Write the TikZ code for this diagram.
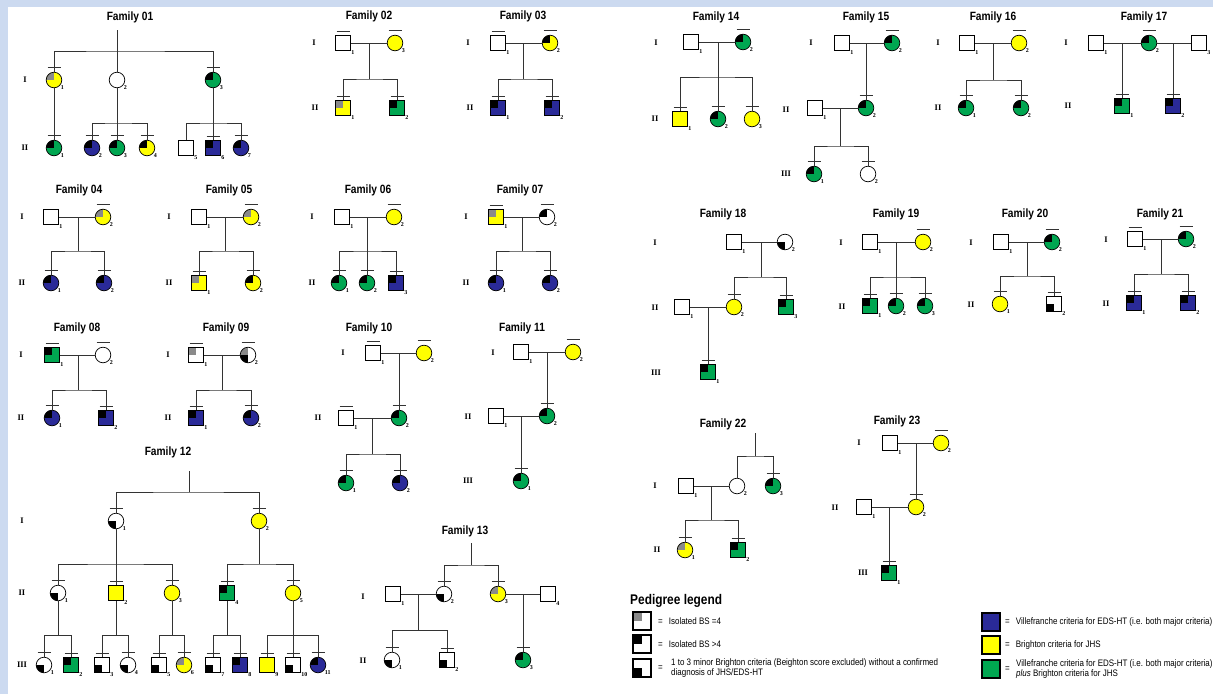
\documentclass[tikz,border=0pt]{standalone}
\usepackage{fontspec}
\setmainfont{Liberation Serif}
\newfontfamily\narrowsans[FakeStretch=0.85]{Liberation Sans}
\usetikzlibrary{calc}

\definecolor{vilblue}{HTML}{2A2A98}
\definecolor{briyellow}{HTML}{FFFF00}
\definecolor{bothgreen}{HTML}{00A651}
\definecolor{bsgrey}{HTML}{8A8A8A}
\definecolor{framebg}{HTML}{CCDAF0}

\tikzset{
  ind/.style={draw=black, line width=0.7pt, inner sep=0pt, fill=white},
  male/.style={ind, rectangle, minimum size=15pt},
  fem/.style={ind, circle, minimum size=15.6pt},
  vil/.style={fill=vilblue},
  bri/.style={fill=briyellow},
  vboth/.style={fill=bothgreen},
  gUL/.style={path picture={\fill[bsgrey] (path picture bounding box.north west) rectangle (path picture bounding box.center);}},
  bUL/.style={path picture={\fill[black] (path picture bounding box.north west) rectangle (path picture bounding box.center);}},
  bLL/.style={path picture={\fill[black] (path picture bounding box.south west) rectangle (path picture bounding box.center);}},
  gbL/.style={path picture={\fill[bsgrey] (path picture bounding box.north west) rectangle (path picture bounding box.center);
                            \fill[black] (path picture bounding box.south west) rectangle (path picture bounding box.center);}},
  nrlab/.style={font=\fontsize{6}{6}\selectfont\bfseries, inner sep=0.4pt},
  nr/.style={label={[nrlab]-40:#1}},
  gen/.style={font=\fontsize{8.5}{8.5}\selectfont\bfseries, inner sep=0pt},
  ftitle/.style={font=\narrowsans\bfseries\fontsize{12}{14}\selectfont, inner sep=0pt},
  ped/.style={draw=black!80, line width=0.85pt},
  legbox/.style={draw=black, line width=1.2pt, rectangle, minimum size=18pt, inner sep=0pt, fill=white},
  legtxt/.style={font=\narrowsans\fontsize{9.4}{10.5}\selectfont, inner sep=0pt},
  ltitle/.style={font=\narrowsans\bfseries\fontsize{14}{16}\selectfont, inner sep=0pt}
}

\newcommand{\seen}[1]{\foreach \p in {#1} {\draw[ped] ([yshift=4pt]\p.north) +(-6.5pt,0) -- +(6.5pt,0);}}
\newcommand{\offspring}[4]{\draw[ped] (#1) -- (#2); \draw[ped] (#3.north) |- (#2) -| (#4.north);}

\begin{document}
\begin{tikzpicture}[x=1pt, y=-1pt]
  \useasboundingbox (0,0) rectangle (1213,694);
  \fill[framebg] (0,0) rectangle (1213,694);
  \fill[white] (8,7) rectangle (1213,694);

  % Family 01
  \node[ftitle] (t01) at (130,17) {Family 01};
  \node[gen] (g01a) at (25,80) {I};
  \node[gen] (g01b) at (25,148) {II};
  \coordinate (f01top) at (117,30);
  \coordinate (f01s) at (117,51);
  \coordinate (f01s2) at (117,123);
  \coordinate (f01s3) at (213,123);
  \node[fem,bri,gUL,nr=1] (f01a1) at (54,80) {};
  \node[fem,nr=2] (f01a2) at (117,80) {};
  \node[fem,vboth,bUL,nr=3] (f01a3) at (213,80) {};
  \node[fem,vboth,bUL,nr=1] (f01b1) at (54,148) {};
  \node[fem,vil,bUL,nr=2] (f01b2) at (92,148) {};
  \node[fem,vboth,bUL,nr=3] (f01b3) at (117,148) {};
  \node[fem,bri,bUL,nr=4] (f01b4) at (147,148) {};
  \node[male,nr=5] (f01b5) at (186,148) {};
  \node[male,vil,bUL,nr=6] (f01b6) at (213,148) {};
  \node[fem,vil,bUL,nr=7] (f01b7) at (241,148) {};
  \draw[ped] (f01top) -- (f01a2);
  \draw[ped] (f01a1.north) |- (f01s) -| (f01a3.north);
  \draw[ped] (f01a1) -- (f01b1);
  \draw[ped] (f01a2) -- (f01b3);
  \draw[ped] (f01b2.north) |- (f01s2) -| (f01b4.north);
  \draw[ped] (f01a3) -- (f01b6);
  \draw[ped] (f01b5.north) |- (f01s3) -| (f01b7.north);
  \seen{f01a1,f01a3,f01b1,f01b2,f01b3,f01b4,f01b6,f01b7}

  % Family 02
  \node[ftitle] (t02) at (369,16) {Family 02};
  \node[gen] (g02a) at (314,43) {I};
  \node[gen] (g02b) at (315,108) {II};
  \node[male,nr=1] (f02a1) at (343,43) {};
  \node[fem,bri,nr=3] (f02a2) at (395,43) {};
  \node[male,bri,gUL,nr=1] (f02b1) at (343,108) {};
  \node[male,vboth,bUL,nr=2] (f02b2) at (397,108) {};
  \coordinate (f02m) at (369,43);
  \coordinate (f02s) at (369,79);
  \draw[ped] (f02a1) -- (f02a2);
  \offspring{f02m}{f02s}{f02b1}{f02b2}
  \seen{f02a1,f02a2,f02b1,f02b2}

  % Family 03
  \node[ftitle] (t03) at (523,16) {Family 03};
  \node[gen] (g03a) at (468,43) {I};
  \node[gen] (g03b) at (470,108) {II};
  \node[male,nr=1] (f03a1) at (498,43) {};
  \node[fem,bri,bUL,nr=2] (f03a2) at (550,43) {};
  \node[male,vil,bUL,nr=1] (f03b1) at (498,108) {};
  \node[male,vil,bUL,nr=2] (f03b2) at (552,108) {};
  \coordinate (f03m) at (523,43);
  \coordinate (f03s) at (523,79);
  \draw[ped] (f03a1) -- (f03a2);
  \offspring{f03m}{f03s}{f03b1}{f03b2}
  \seen{f03a1,f03a2,f03b1,f03b2}

  % Family 04
  \node[ftitle] (t04) at (79,190) {Family 04};
  \node[gen] (g04a) at (22,217) {I};
  \node[gen] (g04b) at (22,283) {II};
  \node[male,nr=1] (f04a1) at (51,217) {};
  \node[fem,bri,gUL,nr=2] (f04a2) at (103,217) {};
  \node[fem,vil,bUL,nr=1] (f04b1) at (51,283) {};
  \node[fem,vil,bUL,nr=2] (f04b2) at (104,283) {};
  \coordinate (f04m) at (78,217);
  \coordinate (f04s) at (78,251);
  \draw[ped] (f04a1) -- (f04a2);
  \offspring{f04m}{f04s}{f04b1}{f04b2}
  \seen{f04a2,f04b1,f04b2}

  % Family 05
  \node[ftitle] (t05) at (229,190) {Family 05};
  \node[gen] (g05a) at (169,217) {I};
  \node[gen] (g05b) at (169,283) {II};
  \node[male,nr=1] (f05a1) at (199,217) {};
  \node[fem,bri,gUL,nr=2] (f05a2) at (251,217) {};
  \node[male,bri,gUL,nr=1] (f05b1) at (199,283) {};
  \node[fem,bri,bUL,nr=2] (f05b2) at (253,283) {};
  \coordinate (f05m) at (225,217);
  \coordinate (f05s) at (225,251);
  \draw[ped] (f05a1) -- (f05a2);
  \offspring{f05m}{f05s}{f05b1}{f05b2}
  \seen{f05a2,f05b1,f05b2}

  % Family 06
  \node[ftitle] (t06) at (368,190) {Family 06};
  \node[gen] (g06a) at (312,217) {I};
  \node[gen] (g06b) at (312,283) {II};
  \node[male,nr=1] (f06a1) at (342,217) {};
  \node[fem,bri,nr=2] (f06a2) at (394,217) {};
  \node[fem,vboth,bUL,nr=1] (f06b1) at (339,283) {};
  \node[fem,vboth,bUL,nr=2] (f06b2) at (367,283) {};
  \node[male,vil,bUL,nr=3] (f06b3) at (396,283) {};
  \coordinate (f06m) at (367,217);
  \coordinate (f06s) at (367,251);
  \draw[ped] (f06a1) -- (f06a2);
  \offspring{f06m}{f06s}{f06b1}{f06b3}
  \draw[ped] (f06s) -- (f06b2);
  \seen{f06a2,f06b1,f06b2,f06b3}

  % Family 07
  \node[ftitle] (t07) at (520,190) {Family 07};
  \node[gen] (g07a) at (466,217) {I};
  \node[gen] (g07b) at (466,283) {II};
  \node[male,bri,gUL,nr=1] (f07a1) at (496,217) {};
  \node[fem,bUL,nr=2] (f07a2) at (547,217) {};
  \node[fem,vil,bUL,nr=1] (f07b1) at (496,283) {};
  \node[fem,vil,bUL,nr=2] (f07b2) at (550,283) {};
  \coordinate (f07m) at (522,217);
  \coordinate (f07s) at (522,251);
  \draw[ped] (f07a1) -- (f07a2);
  \offspring{f07m}{f07s}{f07b1}{f07b2}
  \seen{f07a1,f07a2,f07b1,f07b2}

  % Family 08
  \node[ftitle] (t08) at (77,328) {Family 08};
  \node[gen] (g08a) at (21,355) {I};
  \node[gen] (g08b) at (21,418) {II};
  \node[male,vboth,bUL,nr=1] (f08a1) at (52,355) {};
  \node[fem,nr=2] (f08a2) at (103,355) {};
  \node[fem,vil,bUL,nr=1] (f08b1) at (52,418) {};
  \node[male,vil,bUL,nr=2] (f08b2) at (106,418) {};
  \coordinate (f08m) at (78,355);
  \coordinate (f08s) at (78,390);
  \draw[ped] (f08a1) -- (f08a2);
  \offspring{f08m}{f08s}{f08b1}{f08b2}
  \seen{f08a1,f08a2,f08b1,f08b2}

  % Family 09
  \node[ftitle] (t09) at (226,328) {Family 09};
  \node[gen] (g09a) at (168,355) {I};
  \node[gen] (g09b) at (168,418) {II};
  \node[male,gUL,nr=1] (f09a1) at (196,355) {};
  \node[fem,gbL,nr=2] (f09a2) at (248,355) {};
  \node[male,vil,bUL,nr=1] (f09b1) at (196,418) {};
  \node[fem,vil,bUL,nr=2] (f09b2) at (251,418) {};
  \coordinate (f09m) at (222,355);
  \coordinate (f09s) at (222,390);
  \draw[ped] (f09a1) -- (f09a2);
  \offspring{f09m}{f09s}{f09b1}{f09b2}
  \seen{f09a1,f09a2,f09b1,f09b2}

  % Family 10
  \node[ftitle] (t10) at (369,328) {Family 10};
  \node[gen] (g10a) at (343,353) {I};
  \node[gen] (g10b) at (318,418) {II};
  \node[male,nr=1] (f10a1) at (373,353) {};
  \node[fem,bri,nr=2] (f10a2) at (424,353) {};
  \node[male,nr=1] (f10b1) at (346,418) {};
  \node[fem,vboth,bUL,nr=2] (f10b2) at (399,418) {};
  \node[fem,vboth,bUL,nr=1] (f10c1) at (346,483) {};
  \node[fem,vil,bUL,nr=2] (f10c2) at (400,483) {};
  \coordinate (f10m1) at (399,353);
  \coordinate (f10m2) at (372,418);
  \coordinate (f10s2) at (372,454);
  \draw[ped] (f10a1) -- (f10a2);
  \draw[ped] (f10m1) -- (f10b2);
  \draw[ped] (f10b1) -- (f10b2);
  \offspring{f10m2}{f10s2}{f10c1}{f10c2}
  \seen{f10a1,f10a2,f10b1,f10b2,f10c1,f10c2}

  % Family 11
  \node[ftitle] (t11) at (522,328) {Family 11};
  \node[gen] (g11a) at (493,353) {I};
  \node[gen] (g11b) at (468,417) {II};
  \node[gen] (g11c) at (468,481) {III};
  \node[male,nr=1] (f11a1) at (521,352) {};
  \node[fem,bri,nr=2] (f11a2) at (573,352) {};
  \node[male,nr=1] (f11b1) at (496,416) {};
  \node[fem,vboth,bUL,nr=2] (f11b2) at (547,416) {};
  \node[fem,vboth,bUL,nr=1] (f11c1) at (521,481) {};
  \coordinate (f11m1) at (547,352);
  \coordinate (f11m2) at (521,416);
  \draw[ped] (f11a1) -- (f11a2);
  \draw[ped] (f11m1) -- (f11b2);
  \draw[ped] (f11b1) -- (f11b2);
  \draw[ped] (f11m2) -- (f11c1);
  \seen{f11a2,f11b2,f11c1}

  % Family 12
  \node[ftitle] (t12) at (168,452) {Family 12};
  \node[gen] (g12a) at (22,521) {I};
  \node[gen] (g12b) at (22,593) {II};
  \node[gen] (g12c) at (22,665) {III};
  \coordinate (f12top) at (189,471);
  \coordinate (f12s) at (189,492);
  \node[fem,bLL,nr=1] (f12a1) at (116,521) {};
  \node[fem,bri,nr=2] (f12a2) at (259,521) {};
  \node[fem,bLL,nr=1] (f12b1) at (58,593) {};
  \node[male,bri,nr=2] (f12b2) at (116,593) {};
  \node[fem,bri,nr=3] (f12b3) at (172,593) {};
  \node[male,vboth,bUL,nr=4] (f12b4) at (227,593) {};
  \node[fem,bri,nr=5] (f12b5) at (293,593) {};
  \node[fem,bLL,nr=1] (f12c1) at (44,665) {};
  \node[male,vboth,bUL,nr=2] (f12c2) at (71,665) {};
  \node[male,bLL,nr=3] (f12c3) at (102,665) {};
  \node[fem,bLL,nr=4] (f12c4) at (128,665) {};
  \node[male,bLL,nr=5] (f12c5) at (159,665) {};
  \node[fem,bri,gUL,nr=6] (f12c6) at (184,665) {};
  \node[male,bLL,nr=7] (f12c7) at (213,665) {};
  \node[male,vil,bUL,nr=8] (f12c8) at (240,665) {};
  \node[male,bri,nr=9] (f12c9) at (267,665) {};
  \node[male,bLL,nr=10] (f12c10) at (293,665) {};
  \node[fem,vil,bUL,nr=11] (f12c11) at (318,665) {};
  \coordinate (f12s1) at (116,564);
  \coordinate (f12s2) at (259,564);
  \coordinate (f12s3) at (58,635);
  \coordinate (f12s4) at (116,635);
  \coordinate (f12s5) at (172,635);
  \coordinate (f12s6) at (227,635);
  \coordinate (f12s7) at (293,635);
  \draw[ped] (f12top) -- (f12s);
  \draw[ped] (f12a1.north) |- (f12s) -| (f12a2.north);
  \draw[ped] (f12a1) -- (f12b2);
  \draw[ped] (f12b1.north) |- (f12s1) -| (f12b3.north);
  \offspring{f12a2}{f12s2}{f12b4}{f12b5}
  \offspring{f12b1}{f12s3}{f12c1}{f12c2}
  \offspring{f12b2}{f12s4}{f12c3}{f12c4}
  \offspring{f12b3}{f12s5}{f12c5}{f12c6}
  \offspring{f12b4}{f12s6}{f12c7}{f12c8}
  \offspring{f12b5}{f12s7}{f12c9}{f12c11}
  \draw[ped] (f12s7) -- (f12c10);
  \seen{f12a1,f12a2,f12b1,f12b2,f12b3,f12b4,f12b5}
  \seen{f12c1,f12c2,f12c3,f12c4,f12c5,f12c6,f12c7,f12c8,f12c9,f12c10,f12c11}

  % Family 13
  \node[ftitle] (t13) at (465,531) {Family 13};
  \node[gen] (g13a) at (363,597) {I};
  \node[gen] (g13b) at (363,661) {II};
  \coordinate (f13top) at (471,543);
  \coordinate (f13s) at (471,565);
  \node[male,nr=1] (f13a1) at (393,594) {};
  \node[fem,bLL,nr=2] (f13a2) at (444,594) {};
  \node[fem,bri,gUL,nr=3] (f13a3) at (498,594) {};
  \node[male,nr=4] (f13a4) at (548,594) {};
  \node[fem,bLL,nr=1] (f13b1) at (392,660) {};
  \node[male,bLL,nr=2] (f13b2) at (447,660) {};
  \node[fem,vboth,bUL,nr=3] (f13b3) at (523,660) {};
  \coordinate (f13m1) at (418,594);
  \coordinate (f13s1) at (418,630);
  \coordinate (f13m2) at (523,594);
  \draw[ped] (f13top) -- (f13s);
  \draw[ped] (f13a2.north) |- (f13s) -| (f13a3.north);
  \draw[ped] (f13a1) -- (f13a2);
  \offspring{f13m1}{f13s1}{f13b1}{f13b2}
  \draw[ped] (f13a3) -- (f13a4);
  \draw[ped] (f13m2) -- (f13b3);
  \seen{f13a2,f13a3,f13b1,f13b2,f13b3}

  % Family 14
  \node[ftitle] (t14) at (716,17) {Family 14};
  \node[gen] (g14a) at (656,43) {I};
  \node[gen] (g14b) at (655,119) {II};
  \node[male,nr=1] (f14a1) at (691,42) {};
  \node[fem,vboth,bUL,nr=2] (f14a2) at (743,42) {};
  \node[male,bri,nr=1] (f14b1) at (680,119) {};
  \node[fem,vboth,bUL,nr=2] (f14b2) at (718,119) {};
  \node[fem,bri,nr=3] (f14b3) at (752,119) {};
  \coordinate (f14m) at (718,42);
  \coordinate (f14s) at (718,77);
  \draw[ped] (f14a1) -- (f14a2);
  \offspring{f14m}{f14s}{f14b1}{f14b3}
  \draw[ped] (f14s) -- (f14b2);
  \seen{f14a2,f14b1,f14b2,f14b3}

  % Family 15
  \node[ftitle] (t15) at (866,17) {Family 15};
  \node[gen] (g15a) at (811,43) {I};
  \node[gen] (g15b) at (786,110) {II};
  \node[gen] (g15c) at (786,174) {III};
  \node[male,nr=1] (f15a1) at (842,43) {};
  \node[fem,vboth,bUL,nr=2] (f15a2) at (892,43) {};
  \node[male,nr=1] (f15b1) at (815,108) {};
  \node[fem,vboth,bUL,nr=2] (f15b2) at (866,108) {};
  \node[fem,vboth,bUL,nr=1] (f15c1) at (814,174) {};
  \node[fem,nr=2] (f15c2) at (868,174) {};
  \coordinate (f15m1) at (866,43);
  \coordinate (f15m2) at (840,108);
  \coordinate (f15s2) at (840,146);
  \draw[ped] (f15a1) -- (f15a2);
  \draw[ped] (f15m1) -- (f15b2);
  \draw[ped] (f15b1) -- (f15b2);
  \offspring{f15m2}{f15s2}{f15c1}{f15c2}
  \seen{f15a2,f15b2,f15c1,f15c2}

  % Family 16
  \node[ftitle] (t16) at (993,17) {Family 16};
  \node[gen] (g16a) at (938,43) {I};
  \node[gen] (g16b) at (938,108) {II};
  \node[male,nr=1] (f16a1) at (967,43) {};
  \node[fem,bri,nr=2] (f16a2) at (1019,43) {};
  \node[fem,vboth,bUL,nr=1] (f16b1) at (966,108) {};
  \node[fem,vboth,bUL,nr=2] (f16b2) at (1021,108) {};
  \coordinate (f16m) at (993,43);
  \coordinate (f16s) at (993,80);
  \draw[ped] (f16a1) -- (f16a2);
  \offspring{f16m}{f16s}{f16b1}{f16b2}
  \seen{f16a2,f16b1,f16b2}

  % Family 17
  \node[ftitle] (t17) at (1144,17) {Family 17};
  \node[gen] (g17a) at (1066,43) {I};
  \node[gen] (g17b) at (1068,106) {II};
  \node[male,nr=1] (f17a1) at (1096,43) {};
  \node[fem,vboth,bUL,nr=2] (f17a2) at (1149,43) {};
  \node[male,nr=3] (f17a3) at (1199,43) {};
  \node[male,vboth,bUL,nr=1] (f17b1) at (1122,106) {};
  \node[male,vil,bUL,nr=2] (f17b2) at (1173,106) {};
  \coordinate (f17m1) at (1122,43);
  \coordinate (f17m2) at (1173,43);
  \draw[ped] (f17a1) -- (f17a2);
  \draw[ped] (f17a2) -- (f17a3);
  \draw[ped] (f17m1) -- (f17b1);
  \draw[ped] (f17m2) -- (f17b2);
  \seen{f17a2,f17b1,f17b2}

  % Family 18
  \node[ftitle] (t18) at (723,214) {Family 18};
  \node[gen] (g18a) at (655,243) {I};
  \node[gen] (g18b) at (655,308) {II};
  \node[gen] (g18c) at (656,373) {III};
  \node[male,nr=1] (f18a1) at (734,242) {};
  \node[fem,bLL,nr=2] (f18a2) at (785,242) {};
  \node[male,nr=1] (f18b1) at (682,307) {};
  \node[fem,bri,nr=2] (f18b2) at (734,307) {};
  \node[male,vboth,bUL,nr=3] (f18b3) at (786,307) {};
  \node[male,vboth,bUL,nr=1] (f18c1) at (708,372) {};
  \coordinate (f18m) at (761,242);
  \coordinate (f18s) at (761,277);
  \coordinate (f18m2) at (708,307);
  \draw[ped] (f18a1) -- (f18a2);
  \offspring{f18m}{f18s}{f18b2}{f18b3}
  \draw[ped] (f18b1) -- (f18b2);
  \draw[ped] (f18m2) -- (f18c1);
  \seen{f18b2,f18b3,f18c1}

  % Family 19
  \node[ftitle] (t19) at (896,214) {Family 19};
  \node[gen] (g19a) at (841,243) {I};
  \node[gen] (g19b) at (842,307) {II};
  \node[male,nr=1] (f19a1) at (870,242) {};
  \node[fem,bri,nr=2] (f19a2) at (923,242) {};
  \node[male,vboth,bUL,nr=1] (f19b1) at (870,306) {};
  \node[fem,vboth,bUL,nr=2] (f19b2) at (896,306) {};
  \node[fem,vboth,bUL,nr=3] (f19b3) at (925,306) {};
  \coordinate (f19m) at (896,242);
  \coordinate (f19s) at (896,277);
  \draw[ped] (f19a1) -- (f19a2);
  \offspring{f19m}{f19s}{f19b1}{f19b3}
  \draw[ped] (f19s) -- (f19b2);
  \seen{f19a2,f19b1,f19b2,f19b3}

  % Family 20
  \node[ftitle] (t20) at (1025,214) {Family 20};
  \node[gen] (g20a) at (971,243) {I};
  \node[gen] (g20b) at (971,305) {II};
  \node[male,nr=1] (f20a1) at (1001,242) {};
  \node[fem,vboth,bUL,nr=2] (f20a2) at (1052,242) {};
  \node[fem,bri,nr=1] (f20b1) at (1000,304) {};
  \node[male,bLL,nr=2] (f20b2) at (1054,304) {};
  \coordinate (f20m) at (1027,242);
  \coordinate (f20s) at (1027,276);
  \draw[ped] (f20a1) -- (f20a2);
  \offspring{f20m}{f20s}{f20b1}{f20b2}
  \seen{f20a2,f20b1,f20b2}

  % Family 21
  \node[ftitle] (t21) at (1160,214) {Family 21};
  \node[gen] (g21a) at (1106,240) {I};
  \node[gen] (g21b) at (1106,304) {II};
  \node[male,nr=1] (f21a1) at (1135,239) {};
  \node[fem,vboth,bUL,nr=2] (f21a2) at (1186,239) {};
  \node[male,vil,bUL,nr=1] (f21b1) at (1134,303) {};
  \node[male,vil,bUL,nr=2] (f21b2) at (1188,303) {};
  \coordinate (f21m) at (1161,239);
  \coordinate (f21s) at (1161,274);
  \draw[ped] (f21a1) -- (f21a2);
  \offspring{f21m}{f21s}{f21b1}{f21b2}
  \seen{f21a1,f21a2,f21b1,f21b2}

  % Family 22
  \node[ftitle] (t22) at (723,424) {Family 22};
  \node[gen] (g22a) at (655,486) {I};
  \node[gen] (g22b) at (657,550) {II};
  \coordinate (f22top) at (755,433);
  \coordinate (f22s0) at (755,456);
  \node[male,nr=1] (f22a1) at (686,486) {};
  \node[fem,nr=2] (f22a2) at (737,486) {};
  \node[fem,vboth,bUL,nr=3] (f22a3) at (773,486) {};
  \node[fem,bri,gUL,nr=1] (f22b1) at (685,550) {};
  \node[male,vboth,bUL,nr=2] (f22b2) at (738,550) {};
  \coordinate (f22m) at (711,486);
  \coordinate (f22s) at (711,520);
  \draw[ped] (f22top) -- (f22s0);
  \draw[ped] (f22a2.north) |- (f22s0) -| (f22a3.north);
  \draw[ped] (f22a1) -- (f22a2);
  \offspring{f22m}{f22s}{f22b1}{f22b2}
  \seen{f22a3,f22b1,f22b2}

  % Family 23
  \node[ftitle] (t23) at (897,421) {Family 23};
  \node[gen] (g23a) at (859,443) {I};
  \node[gen] (g23b) at (835,508) {II};
  \node[gen] (g23c) at (863,573) {III};
  \node[male,nr=1] (f23a1) at (890,443) {};
  \node[fem,bri,nr=2] (f23a2) at (941,443) {};
  \node[male,nr=1] (f23b1) at (864,507) {};
  \node[fem,bri,nr=2] (f23b2) at (916,507) {};
  \node[male,vboth,bUL,nr=1] (f23c1) at (889,573) {};
  \coordinate (f23m1) at (916,443);
  \coordinate (f23m2) at (889,507);
  \draw[ped] (f23a1) -- (f23a2);
  \draw[ped] (f23m1) -- (f23b2);
  \draw[ped] (f23b1) -- (f23b2);
  \draw[ped] (f23m2) -- (f23c1);
  \seen{f23a2,f23b2,f23c1}

  % legend
  \node[ltitle,anchor=west] (legtitle) at (630,601) {Pedigree legend};
  \node[legbox,gUL] (lk1) at (642,621) {};
  \node[legbox,bUL] (lk2) at (642,644) {};
  \node[legbox,bLL] (lk3) at (642,668) {};
  \node[legtxt,anchor=west] (lt1) at (658,621) {=\hspace{6pt}Isolated BS =4};
  \node[legtxt,anchor=west] (lt2) at (658,644) {=\hspace{6pt}Isolated BS >4};
  \node[legtxt,anchor=west] (le3) at (658,668) {=};
  \node[legtxt,anchor=west,align=left] (lt3) at (671,668) {1 to 3 minor Brighton criteria (Beighton score excluded) without a confirmed\\diagnosis of JHS/EDS-HT};
  \node[legbox,fill=vilblue] (lk4) at (991,622) {};
  \node[legbox,fill=briyellow] (lk5) at (991,645) {};
  \node[legbox,fill=bothgreen] (lk6) at (991,669) {};
  \node[legtxt,anchor=west] (lt4) at (1005,622) {=\hspace{6pt}Villefranche criteria for EDS-HT (i.e. both major criteria)};
  \node[legtxt,anchor=west] (lt5) at (1005,645) {=\hspace{6pt}Brighton criteria for JHS};
  \node[legtxt,anchor=west] (le6) at (1005,669) {=};
  \node[legtxt,anchor=west,align=left] (lt6) at (1016,669) {Villefranche criteria for EDS-HT (i.e. both major criteria)\\\textit{plus} Brighton criteria for JHS};
\end{tikzpicture}
\end{document}
